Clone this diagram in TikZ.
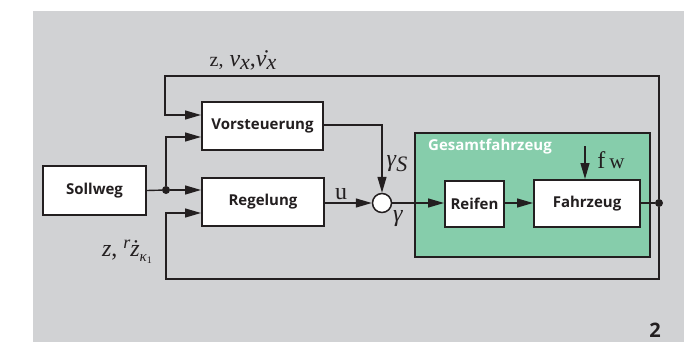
\documentclass[tikz,border=0pt]{standalone}
\usepackage{fontspec}
\usetikzlibrary{arrows.meta,calc}
\newfontfamily\boxfont{Open Sans}
\newfontfamily\lserif{Liberation Serif}
\definecolor{bggray}{RGB}{209,210,212}
\definecolor{fzgreen}{RGB}{134,205,171}
\definecolor{linegray}{RGB}{35,31,32}
\newcommand\lsub[2][-3pt]{\raisebox{#1}{\fontsize{22}{24}\selectfont\itshape #2}}
\tikzset{
  blk/.style={draw=linegray,line width=2pt,fill=white,inner sep=0pt,
    font=\boxfont\bfseries\fontsize{15}{18}\selectfont,text=linegray},
  sig/.style={draw=linegray,line width=1.4pt},
  arr/.style={sig,-{Triangle[length=16pt,width=9pt]}},
  mlabel/.style={font=\lserif\fontsize{24}{28}\selectfont,text=linegray,inner sep=0pt},
  dotnode/.style={circle,fill=linegray,inner sep=0pt,minimum size=8pt},
}
\begin{document}
\begin{tikzpicture}[x=1pt,y=-1pt]
\useasboundingbox (0,0) rectangle (690,342);
\fill[bggray] (33,11) rectangle (684,342);
% green frame
\node[draw=linegray,line width=2pt,fill=fzgreen,inner sep=0pt,
  minimum width=235pt,minimum height=124pt] (G) at (532.5,195) {};
\node[anchor=west,inner sep=0pt,text=white,font=\boxfont\bfseries\fontsize{15}{18}\selectfont] (GT) at (428,147) {Gesamtfahrzeug};
% blocks
\node[blk,minimum width=103pt,minimum height=49pt] (S) at (94.5,190.5) {Sollweg};
\node[blk,minimum width=121pt,minimum height=48pt] (V) at (262.5,126) {Vorsteuerung};
\node[blk,minimum width=122pt,minimum height=48pt] (R) at (263,202) {Regelung};
\node[blk,minimum width=59pt,minimum height=46pt] (RF) at (474.5,204) {Reifen};
\node[blk,minimum width=106pt,minimum height=47pt] (F) at (587,203.5) {Fahrzeug};
\node[draw=linegray,line width=1.5pt,fill=white,circle,inner sep=0pt,minimum size=19pt] (C) at (382,203) {};
% junctions
\node[dotnode] (J) at (166,190) {};
\node[dotnode] (O) at (659,203) {};
\coordinate (FW) at (585,146);
\coordinate (T1) at (659,76);
\coordinate (T2) at (165,76);
\coordinate (B1) at (659,279);
\coordinate (B2) at (166,279);
% connectors
\draw[sig] (S.east) -- (J);
\draw[arr] (J) -- (R.west |- J);
\draw[arr] (J) |- (V.west |- 0,137);
\draw[arr] (O) -- (T1) -- (T2) |- (V.west |- 0,115);
\draw[arr] (O) -- (B1) -- (B2) |- (R.west |- 0,213);
\draw[arr] (V.east |- 0,125) -| (C.north);
\draw[arr] (R.east |- C) -- (C.west);
\draw[arr] (C.east) -- (RF.west |- C);
\draw[arr] (RF.east |- C) -- (F.west |- C);
\draw[arr] (FW) -- (F.north -| FW);
\draw[sig] (F.east |- O) -- (O);
% labels
\node[mlabel,anchor=base] (L1) at (243,67) {{\fontsize{20}{24}\selectfont z,} \textit{v}\lsub{x},\.{\textit{v}}\lsub{x}};
\node[mlabel,anchor=base] (L2) at (127,256) {\textit{z}, \raisebox{8pt}{\fontsize{18}{20}\selectfont\itshape r}\textit{\.z}\raisebox{-5pt}{\fontsize{15}{18}\selectfont\itshape κ\raisebox{-2pt}{\fontsize{10}{12}\selectfont\upshape 1}}};
\node[mlabel,anchor=base] (Lu) at (341,199) {u};
\node[mlabel,anchor=base] (LgS) at (397,166) {\textit{γ}\lsub[-5pt]{S}};
\node[mlabel,anchor=base] (Lg) at (398,221) {\textit{γ}};
\node[mlabel,anchor=base] (Lfw) at (611,168) {f\,\fontsize{21}{24}\selectfont w};
\node[inner sep=0pt,text=linegray,font=\boxfont\bfseries\fontsize{20}{24}\selectfont] (N2) at (655,330) {2};
\end{tikzpicture}
\end{document}
